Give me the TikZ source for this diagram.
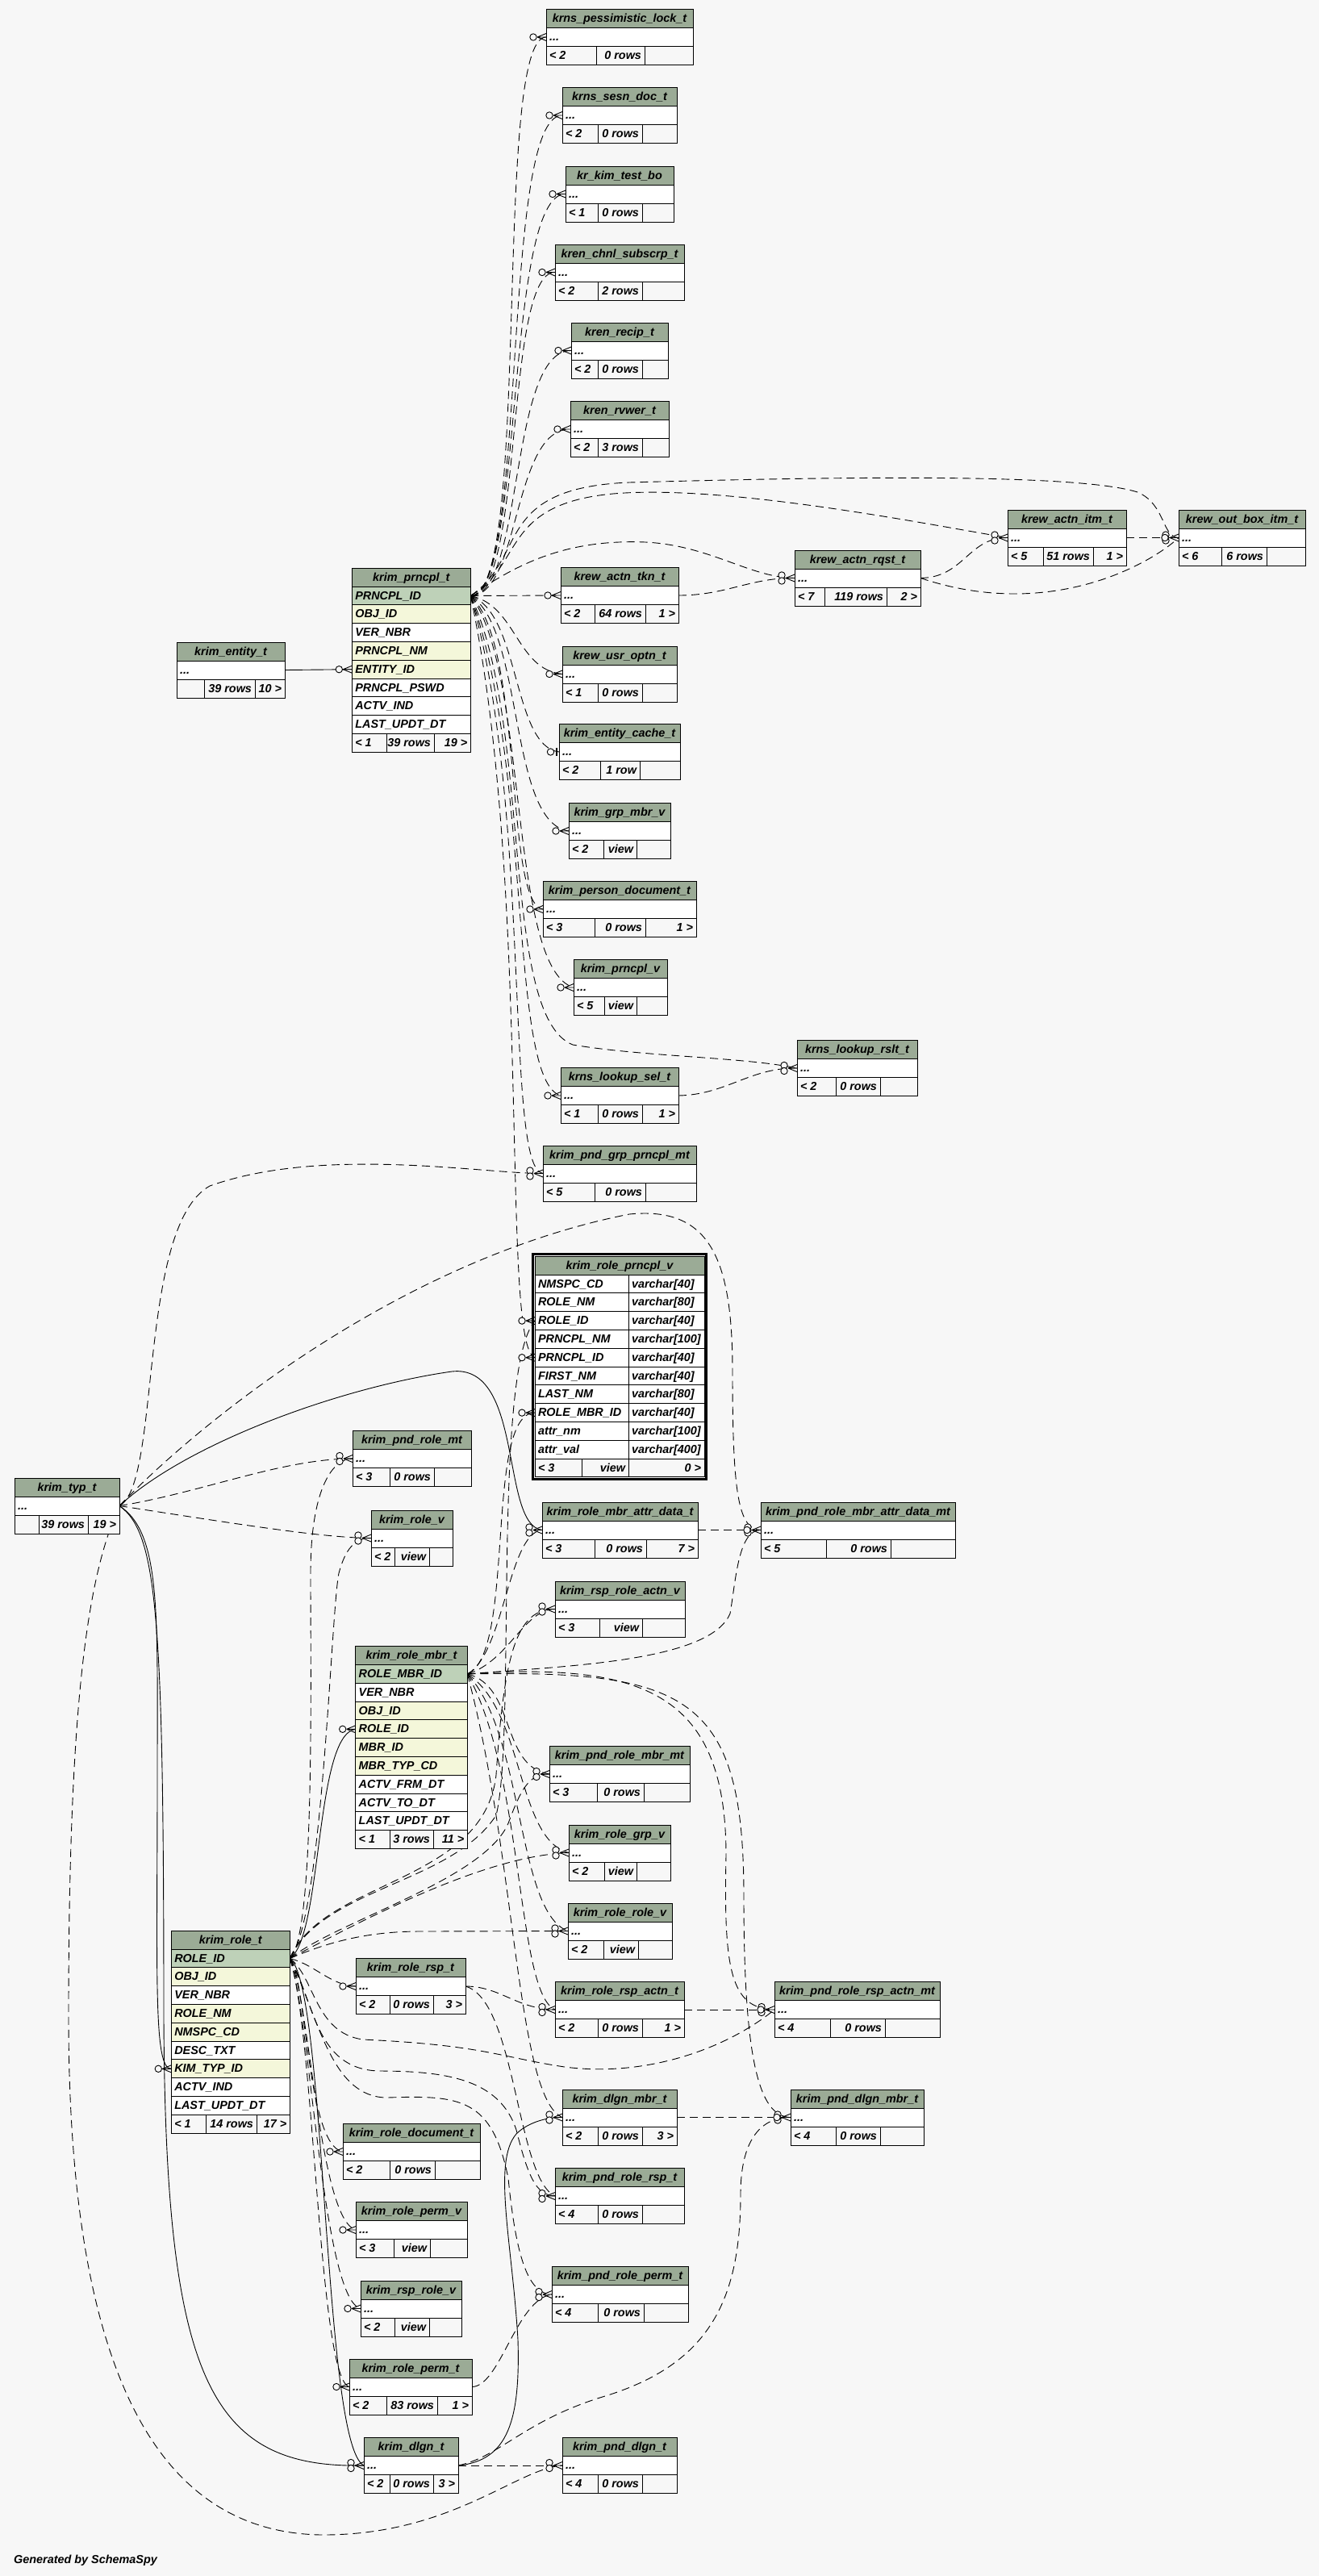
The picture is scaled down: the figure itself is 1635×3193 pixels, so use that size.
\documentclass[tikz,border=0pt]{standalone}
\usepackage{fontspec}
\setmainfont{Liberation Sans}
\pgfdeclarelayer{back}
\pgfdeclarelayer{lines}
\pgfsetlayers{back,lines,main}
\definecolor{bgc}{HTML}{F7F7F7}
\definecolor{hdr}{HTML}{9BAB96}
\definecolor{pkc}{HTML}{BED1B8}
\definecolor{fkc}{HTML}{F4F7DA}
\newcommand\tabfont{\fontsize{14.4}{16}\selectfont\bfseries\itshape}
\tikzset{
  tcell/.style={draw=black, line width=1pt, inner xsep=4pt, inner ysep=0pt,
    text height=10.3pt, text depth=1pt, anchor=north west, outer sep=0pt, font=\tabfont},
  dsh/.style={draw=black, line width=0.9pt, dash pattern=on 10pt off 6pt},
  sol/.style={draw=black, line width=0.9pt},
  mkst/.style={draw=black, line width=0.9pt}
}
\newcommand\stab[5]{%
  \pgfmathsetmacro\tww{#4-#2-8}%
  \node[tcell, fill=hdr, minimum height=23pt] (#1-h) at (#2,#3) {\makebox[\tww pt][c]{#5}};
  \node[tcell, fill=white, minimum height=23pt] (#1) at (#2,#3+23) {\makebox[\tww pt][l]{...}};
  \def\sn{#1}\def\sx{#2}\def\sxe{#4}\pgfmathsetmacro\sfy{#3+46}\def\srh{23pt}%
}
\newcommand\btab[7]{%
  \pgfmathsetmacro\tww{#4-#2-8}%
  \node[tcell, fill=hdr, minimum height=22.8pt] (#1-h) at (#2,#3) {\makebox[\tww pt][c]{#5}};
  \foreach \cn/\cf [count=\i] in {#7} {
    \node[tcell, fill=\cf, minimum height=22.8pt] (#1-r\i) at (#2,#3+22.8*\i) {\makebox[\tww pt][l]{\cn}};
  }
  \def\sn{#1}\def\sx{#2}\def\sxe{#4}\pgfmathsetmacro\sfy{#3+22.8*#6}\def\srh{22.8pt}%
}
\newcommand\sfoot[5]{%
  \pgfmathsetmacro\wa{#1-\sx-8}\pgfmathsetmacro\wb{#2-#1-8}\pgfmathsetmacro\wc{\sxe-#2-8}%
  \node[tcell, fill=bgc, minimum height=\srh] (\sn-fa) at (\sx,\sfy) {\makebox[\wa pt][l]{#3}};
  \node[tcell, fill=bgc, minimum height=\srh] (\sn-fb) at (#1,\sfy) {\makebox[\wb pt][r]{#4}};
  \node[tcell, fill=bgc, minimum height=\srh] (\sn-fc) at (#2,\sfy) {\makebox[\wc pt][r]{#5}};
}
\newcommand\many[2][1]{%
  \draw[mkst] ([xshift=-11pt]#2) -- ([yshift=4.5pt]#2) ([xshift=-11pt]#2) -- (#2) ([xshift=-11pt]#2) -- ([yshift=-4.5pt]#2);
  \ifcase#1\or
    \draw[mkst,fill=bgc] ([xshift=-16pt]#2) circle (4.2pt);
  \or
    \draw[mkst,fill=bgc] ([xshift=-16pt,yshift=3.5pt]#2) circle (4.2pt);
    \draw[mkst,fill=bgc] ([xshift=-16pt,yshift=-3.5pt]#2) circle (4.2pt);
  \or
    \draw[mkst,fill=bgc] ([xshift=-16pt,yshift=3.5pt]#2) circle (4.2pt);
    \draw[mkst,fill=bgc] ([xshift=-16pt,yshift=-3.5pt]#2) circle (4.2pt);
    \draw[mkst,fill=bgc] ([xshift=-17pt]#2) circle (4.2pt);
  \fi}
\newcommand\one[1]{%
  \draw[mkst, fill=bgc] ([xshift=-10.5pt]#1) circle (4.2pt);
  \draw[line width=2pt] ([xshift=-3pt,yshift=5pt]#1) -- ([xshift=-3pt,yshift=-5pt]#1);}
\begin{document}
\begin{tikzpicture}[x=1pt,y=-1pt]
\begin{pgfonlayer}{back}
\fill[bgc] (0,0) rectangle (1635,3193);
\end{pgfonlayer}
\useasboundingbox (0,0) rectangle (1635,3193);

% ---------- tables ----------
\stab{pess}{677}{11.5}{859}{krns\_pessimistic\_lock\_t} \sfoot{739}{799}{< 2}{0 rows}{}
\stab{sesn}{697}{108.5}{839}{krns\_sesn\_doc\_t} \sfoot{741}{796}{< 2}{0 rows}{}
\stab{kimtest}{701}{206}{835}{kr\_kim\_test\_bo} \sfoot{741}{796}{< 1}{0 rows}{}
\stab{chnl}{688}{303}{848}{kren\_chnl\_subscrp\_t} \sfoot{741}{796}{< 2}{2 rows}{}
\stab{recip}{708}{400}{828}{kren\_recip\_t} \sfoot{741}{796}{< 2}{0 rows}{}
\stab{rvwer}{707}{497.5}{829}{kren\_rvwer\_t} \sfoot{741}{796}{< 2}{3 rows}{}
\stab{actnitm}{1249}{632}{1396}{krew\_actn\_itm\_t} \sfoot{1293}{1355}{< 5}{51 rows}{1 >}
\stab{outbox}{1461}{632}{1618}{krew\_out\_box\_itm\_t} \sfoot{1514}{1570}{< 6}{6 rows}{}
\stab{actnrqst}{985}{682}{1141}{krew\_actn\_rqst\_t} \sfoot{1022}{1099}{< 7}{119 rows}{2 >}
\stab{actntkn}{695}{703.5}{841}{krew\_actn\_tkn\_t} \sfoot{737}{800}{< 2}{64 rows}{1 >}
\stab{entity}{219}{796}{353}{krim\_entity\_t} \sfoot{253}{316}{}{39 rows}{10 >}
\stab{usroptn}{697}{801}{839}{krew\_usr\_optn\_t} \sfoot{741}{796}{< 1}{0 rows}{}
\stab{entcache}{693}{897.5}{843}{krim\_entity\_cache\_t} \sfoot{744}{793}{< 2}{1 row}{}
\stab{grpmbrv}{705}{995.5}{831}{krim\_grp\_mbr\_v} \sfoot{748}{789}{< 2}{view}{}
\stab{persdoc}{673}{1092.5}{863}{krim\_person\_document\_t} \sfoot{737}{800}{< 3}{0 rows}{1 >}
\stab{prncplv}{711}{1189.5}{827}{krim\_prncpl\_v} \sfoot{749}{789}{< 5}{view}{}
\stab{lkrslt}{988}{1289.5}{1137}{krns\_lookup\_rslt\_t} \sfoot{1036}{1091}{< 2}{0 rows}{}
\stab{lksel}{695}{1323.5}{841}{krns\_lookup\_sel\_t} \sfoot{741}{796}{< 1}{0 rows}{1 >}
\stab{pndgrp}{673}{1420}{863}{krim\_pnd\_grp\_prncpl\_mt} \sfoot{737}{800}{< 5}{0 rows}{}
\stab{typ}{18}{1832}{148}{krim\_typ\_t} \sfoot{48}{109}{}{39 rows}{19 >}
\stab{pndrole}{437}{1773.5}{584}{krim\_pnd\_role\_mt} \sfoot{483}{538}{< 3}{0 rows}{}
\stab{rolev}{460}{1872}{561}{krim\_role\_v} \sfoot{489}{532}{< 2}{view}{}
\stab{rmad}{672}{1862}{865}{krim\_role\_mbr\_attr\_data\_t} \sfoot{737}{801}{< 3}{0 rows}{7 >}
\stab{pndrmad}{943}{1862}{1184}{krim\_pnd\_role\_mbr\_attr\_data\_mt} \sfoot{1024}{1104}{< 5}{0 rows}{}
\stab{rspra}{688}{1960}{849}{krim\_rsp\_role\_actn\_v} \sfoot{743}{796}{< 3}{view}{}
\stab{pndrmt}{681}{2164.5}{855}{krim\_pnd\_role\_mbr\_mt} \sfoot{740}{798}{< 3}{0 rows}{}
\stab{rolegrpv}{705}{2262}{831}{krim\_role\_grp\_v} \sfoot{749}{789}{< 2}{view}{}
\stab{rolerolev}{704}{2359}{833}{krim\_role\_role\_v} \sfoot{748}{791}{< 2}{view}{}
\stab{rolersp}{441}{2427.5}{577}{krim\_role\_rsp\_t} \sfoot{483}{537}{< 2}{0 rows}{3 >}
\stab{rolerspactn}{688}{2456.5}{848}{krim\_role\_rsp\_actn\_t} \sfoot{741}{796}{< 2}{0 rows}{1 >}
\stab{pndrra}{960}{2456.5}{1165}{krim\_pnd\_role\_rsp\_actn\_mt} \sfoot{1029}{1097}{< 4}{0 rows}{}
\stab{dlgnmbr}{697}{2590}{839}{krim\_dlgn\_mbr\_t} \sfoot{741}{796}{< 2}{0 rows}{3 >}
\stab{pnddlgnmbr}{980}{2590}{1145}{krim\_pnd\_dlgn\_mbr\_t} \sfoot{1036}{1091}{< 4}{0 rows}{}
\stab{roledoc}{425}{2632.5}{595}{krim\_role\_document\_t} \sfoot{483}{539}{< 2}{0 rows}{}
\stab{pndrolersp}{688}{2687.5}{848}{krim\_pnd\_role\_rsp\_t} \sfoot{741}{796}{< 4}{0 rows}{}
\stab{rolepermv}{441}{2729.5}{579}{krim\_role\_perm\_v} \sfoot{488}{533}{< 3}{view}{}
\stab{pndroleperm}{684}{2809.5}{853}{krim\_pnd\_role\_perm\_t} \sfoot{741}{798}{< 4}{0 rows}{}
\stab{rsprolev}{447}{2827}{572}{krim\_rsp\_role\_v} \sfoot{489}{532}{< 2}{view}{}
\stab{roleperm}{433}{2924}{585}{krim\_role\_perm\_t} \sfoot{479}{542}{< 2}{83 rows}{1 >}
\stab{dlgn}{451}{3021.5}{568}{krim\_dlgn\_t} \sfoot{483}{537}{< 2}{0 rows}{3 >}
\stab{pnddlgn}{697}{3021.5}{839}{krim\_pnd\_dlgn\_t} \sfoot{741}{796}{< 4}{0 rows}{}

\btab{prncpl}{436.3}{704.3}{583.3}{krim\_prncpl\_t}{9}{PRNCPL\_ID/pkc, OBJ\_ID/fkc, VER\_NBR/white, PRNCPL\_NM/fkc, ENTITY\_ID/fkc, PRNCPL\_PSWD/white, ACTV\_IND/white, LAST\_UPDT\_DT/white}
\sfoot{479}{538}{< 1}{39 rows}{19 >}
\btab{rmt}{440.7}{2040.7}{579.3}{krim\_role\_mbr\_t}{10}{ROLE\_MBR\_ID/pkc, VER\_NBR/white, OBJ\_ID/fkc, ROLE\_ID/fkc, MBR\_ID/fkc, MBR\_TYP\_CD/fkc, ACTV\_FRM\_DT/white, ACTV\_TO\_DT/white, LAST\_UPDT\_DT/white}
\sfoot{483}{537}{< 1}{3 rows}{11 >}
\btab{rt}{212.3}{2393.3}{359.3}{krim\_role\_t}{10}{ROLE\_ID/pkc, OBJ\_ID/fkc, VER\_NBR/white, ROLE\_NM/fkc, NMSPC\_CD/fkc, DESC\_TXT/white, KIM\_TYP\_ID/fkc, ACTV\_IND/white, LAST\_UPDT\_DT/white}
\sfoot{255}{318}{< 1}{14 rows}{17 >}

% krim_role_prncpl_v (focus table)
\node[tcell, fill=hdr, minimum height=22.8pt] (rpv-h) at (663,1557.3) {\makebox[202pt][c]{krim\_role\_prncpl\_v}};
\foreach \cn/\ct [count=\i] in {NMSPC\_CD/varchar[40], ROLE\_NM/varchar[80], ROLE\_ID/varchar[40], PRNCPL\_NM/varchar[100], PRNCPL\_ID/varchar[40], FIRST\_NM/varchar[40], LAST\_NM/varchar[80], ROLE\_MBR\_ID/varchar[40], attr\_nm/varchar[100], attr\_val/varchar[400]} {
  \node[tcell, fill=white, minimum height=22.8pt] (rpv-r\i) at (663,1557.3+22.8*\i) {\makebox[108pt][l]{\cn}};
  \node[tcell, fill=white, minimum height=22.8pt] (rpv-t\i) at (779,1557.3+22.8*\i) {\makebox[86pt][l]{\ct}};
}
\node[tcell, fill=bgc, minimum height=22.8pt] (rpv-fa) at (663,1808.1) {\makebox[50pt][l]{< 3}};
\node[tcell, fill=bgc, minimum height=22.8pt] (rpv-fb) at (721,1808.1) {\makebox[50pt][r]{view}};
\node[tcell, fill=bgc, minimum height=22.8pt] (rpv-fc) at (779,1808.1) {\makebox[86pt][r]{0 >}};
\draw[line width=2.6pt] (660.4,1554.7) rectangle (875.6,1833.5);

\node[anchor=west, font=\tabfont, inner sep=0pt] (gen) at (17,3174) {Generated by SchemaSpy};

% ---------- connectors ----------
\begin{pgfonlayer}{lines}
% from krim_prncpl_t.PRNCPL_ID
\draw[dsh] (prncpl-r1.east) .. controls (660,738) and (610,46) .. (pess.west);
\draw[dsh] (prncpl-r1.east) .. controls (655,738) and (620,142) .. (sesn.west);
\draw[dsh] (prncpl-r1.east) .. controls (650,738) and (625,240) .. (kimtest.west);
\draw[dsh] (prncpl-r1.east) .. controls (650,738) and (625,337) .. (chnl.west);
\draw[dsh] (prncpl-r1.east) .. controls (650,738) and (630,434) .. (recip.west);
\draw[dsh] (prncpl-r1.east) .. controls (645,738) and (635,531) .. (rvwer.west);
\draw[dsh] (prncpl-r1.east) .. controls (650,700) and (620,625) .. (760,612) .. controls (900,600) and (1150,650) .. (actnitm.west);
\draw[dsh] (prncpl-r1.east) .. controls (655,690) and (610,605) .. (780,598) .. controls (1000,592) and (1330,585) .. (1410,610) .. controls (1445,625) and (1440,666) .. (outbox.west);
\draw[dsh] (prncpl-r1.east) .. controls (640,700) and (700,668) .. (800,672) .. controls (880,676) and (930,716) .. (actnrqst.west);
\draw[dsh] (prncpl-r1.east) -- (actntkn.west);
\draw[dsh] (prncpl-r1.east) .. controls (640,750) and (640,830) .. (usroptn.west);
\draw[dsh] (prncpl-r1.east) .. controls (645,760) and (635,925) .. (entcache.west);
\draw[dsh] (prncpl-r1.east) .. controls (650,780) and (630,1020) .. (grpmbrv.west);
\draw[dsh] (prncpl-r1.east) .. controls (650,800) and (625,1120) .. (persdoc.west);
\draw[dsh] (prncpl-r1.east) .. controls (655,830) and (630,1200) .. (prncplv.west);
\draw[dsh] (prncpl-r1.east) .. controls (660,900) and (620,1260) .. (710,1295) .. controls (800,1310) and (920,1310) .. (lkrslt.west);
\draw[dsh] (prncpl-r1.east) .. controls (660,950) and (630,1340) .. (lksel.west);
\draw[dsh] (prncpl-r1.east) .. controls (660,1000) and (625,1450) .. (pndgrp.west);
\draw[dsh] (prncpl-r1.east) .. controls (660,1100) and (620,1670) .. (rpv-r5.west);
% krew and lookup
\draw[dsh] (actntkn.east) .. controls (900,738) and (930,716) .. (actnrqst.west);
\draw[dsh] (actnrqst.east) .. controls (1195,716) and (1200,666) .. (actnitm.west);
\draw[dsh] (actnrqst.east) .. controls (1300,770) and (1425,700) .. (outbox.west);
\draw[dsh] (actnitm.east) -- (outbox.west);
\draw[dsh] (lksel.east) .. controls (900,1357) and (930,1323) .. (lkrslt.west);
\draw[sol] (entity.east) -- (prncpl-r5.west);
% from krim_typ_t
\draw[dsh] (typ.east) .. controls (200,1840) and (170,1520) .. (260,1470) .. controls (400,1420) and (600,1455) .. (pndgrp.west);
\draw[dsh] (typ.east) .. controls (250,1850) and (350,1808) .. (pndrole.west);
\draw[dsh] (typ.east) .. controls (300,1890) and (400,1906) .. (rolev.west);
\draw[sol] (typ.east) .. controls (230,1790) and (420,1720) .. (560,1700) .. controls (650,1690) and (620,1890) .. (rmad.west);
\draw[dsh] (typ.east) .. controls (250,1760) and (500,1560) .. (780,1505) .. controls (880,1495) and (908,1560) .. (908,1700) .. controls (908,1850) and (915,1896) .. (pndrmad.west);
\draw[sol] (typ.east) .. controls (200,1900) and (195,2000) .. (195,2200) .. controls (195,2450) and (190,2565) .. (rt-r7.west);
\draw[sol] (typ.east) .. controls (195,1900) and (203,2000) .. (203,2500) .. controls (205,2950) and (260,3060) .. (dlgn.west);
\draw[dsh] (typ.east) .. controls (110,1950) and (85,2100) .. (85,2500) .. controls (85,2950) and (200,3140) .. (400,3142) .. controls (560,3142) and (640,3060) .. (pnddlgn.west);
% from krim_role_mbr_t.ROLE_MBR_ID
\draw[dsh] (rmt-r1.east) .. controls (640,2050) and (600,1751) .. (rpv-r8.west);
\draw[dsh] (rmt-r1.east) .. controls (625,2050) and (630,1900) .. (rmad.west);
\draw[dsh] (rmt-r1.east) .. controls (700,2065) and (880,2060) .. (905,2000) .. controls (912,1960) and (915,1896) .. (pndrmad.west);
\draw[dsh] (rmt-r1.east) .. controls (630,2060) and (650,1994) .. (rspra.west);
\draw[dsh] (rmt-r1.east) .. controls (640,2090) and (620,2190) .. (pndrmt.west);
\draw[dsh] (rmt-r1.east) .. controls (650,2120) and (640,2280) .. (rolegrpv.west);
\draw[dsh] (rmt-r1.east) .. controls (650,2150) and (640,2370) .. (rolerolev.west);
\draw[dsh] (rmt-r1.east) .. controls (650,2200) and (640,2470) .. (rolerspactn.west);
\draw[dsh] (rmt-r1.east) .. controls (800,2060) and (900,2100) .. (900,2300) .. controls (897,2440) and (905,2490) .. (pndrra.west);
\draw[dsh] (rmt-r1.east) .. controls (850,2070) and (922,2100) .. (922,2350) .. controls (922,2550) and (940,2624) .. (pnddlgnmbr.west);
\draw[dsh] (rmt-r1.east) .. controls (640,2300) and (640,2600) .. (dlgnmbr.west);
% from krim_role_t.ROLE_ID
\draw[dsh] (rt-r1.east) .. controls (390,2400) and (385,2100) .. (385,1950) .. controls (385,1850) and (410,1808) .. (pndrole.west);
\draw[dsh] (rt-r1.east) .. controls (400,2380) and (410,2000) .. (420,1950) .. controls (428,1920) and (440,1906) .. (rolev.west);
\draw[dsh] (rt-r1.east) .. controls (400,2340) and (560,2335) .. (615,2250) .. controls (640,2150) and (610,1700) .. (rpv-r3.west);
\draw[dsh] (rt-r1.east) .. controls (400,2330) and (600,2335) .. (615,2200) .. controls (625,2050) and (640,1994) .. (rspra.west);
\draw[dsh] (rt-r1.east) .. controls (420,2380) and (600,2330) .. (630,2260) .. controls (645,2220) and (655,2198) .. (pndrmt.west);
\draw[dsh] (rt-r1.east) .. controls (450,2380) and (600,2300) .. (rolegrpv.west);
\draw[dsh] (rt-r1.east) .. controls (400,2410) and (450,2394) .. (520,2394) -- (rolerolev.west);
\draw[dsh] (rt-r1.east) .. controls (390,2435) and (410,2461) .. (rolersp.west);
\draw[dsh] (rt-r1.east) .. controls (380,2450) and (380,2660) .. (roledoc.west);
\draw[dsh] (rt-r1.east) .. controls (385,2480) and (395,2750) .. (rolepermv.west);
\draw[dsh] (rt-r1.east) .. controls (385,2500) and (400,2850) .. (rsprolev.west);
\draw[dsh] (rt-r1.east) .. controls (390,2520) and (395,2950) .. (roleperm.west);
\draw[sol] (rt-r1.east) .. controls (405,2460) and (400,3030) .. (dlgn.west);
\draw[sol] (rt-r1.east) .. controls (400,2400) and (390,2150) .. (rmt-r4.west);
\draw[dsh] (rt-r1.east) .. controls (390,2450) and (390,2520) .. (450,2528) .. controls (600,2535) and (620,2550) .. (700,2562) .. controls (800,2575) and (900,2540) .. (pndrra.west);
\draw[dsh] (rt-r1.east) .. controls (390,2480) and (390,2565) .. (470,2567) .. controls (560,2567) and (620,2580) .. (640,2640) .. controls (655,2700) and (665,2721) .. (pndrolersp.west);
\draw[dsh] (rt-r1.east) .. controls (395,2500) and (410,2600) .. (480,2600) .. controls (570,2597) and (610,2600) .. (630,2700) .. controls (640,2800) and (655,2843) .. (pndroleperm.west);
% others
\draw[dsh] (rolersp.east) .. controls (620,2462) and (640,2490) .. (rolerspactn.west);
\draw[dsh] (rolersp.east) .. controls (640,2480) and (640,2700) .. (pndrolersp.west);
\draw[dsh] (rolerspactn.east) -- (pndrra.west);
\draw[dsh] (rmad.east) -- (pndrmad.west);
\draw[dsh] (dlgnmbr.east) -- (pnddlgnmbr.west);
\draw[dsh] (roleperm.east) .. controls (620,2958) and (640,2850) .. (pndroleperm.west);
\draw[dsh] (dlgn.east) -- (pnddlgn.west);
\draw[sol] (dlgn.east) .. controls (630,3050) and (645,3000) .. (642,2900) .. controls (635,2780) and (610,2680) .. (640,2645) .. controls (655,2630) and (680,2624) .. (dlgnmbr.west);
\draw[dsh] (dlgn.east) .. controls (620,3045) and (650,3000) .. (750,2970) .. controls (880,2930) and (918,2850) .. (918,2720) .. controls (918,2650) and (945,2624) .. (pnddlgnmbr.west);
\end{pgfonlayer}

% ---------- end markers ----------
\many{pess.west} \many{sesn.west} \many{kimtest.west} \many{chnl.west} \many{recip.west} \many{rvwer.west}
\many[2]{actnitm.west} \many[3]{outbox.west} \many[2]{actnrqst.west} \many{actntkn.west} \many{usroptn.west}
\one{entcache.west}
\many{grpmbrv.west} \many{persdoc.west} \many{prncplv.west} \many[2]{lkrslt.west} \many{lksel.west} \many[2]{pndgrp.west}
\many{rpv-r3.west} \many{rpv-r5.west} \many{rpv-r8.west} \many{prncpl-r5.west}
\many[2]{pndrole.west} \many[2]{rolev.west} \many[2]{rmad.west} \many[3]{pndrmad.west} \many[2]{rspra.west}
\many{rmt-r4.west} \many[2]{pndrmt.west} \many[2]{rolegrpv.west} \many[2]{rolerolev.west} \many{rolersp.west}
\many[2]{rolerspactn.west} \many[3]{pndrra.west} \many[2]{dlgnmbr.west} \many[3]{pnddlgnmbr.west}
\many{roledoc.west} \many[2]{pndrolersp.west} \many{rolepermv.west} \many[2]{pndroleperm.west} \many{rsprolev.west}
\many{roleperm.west} \many[2]{dlgn.west} \many[2]{pnddlgn.west} \many{rt-r7.west}
\end{tikzpicture}
\end{document}
